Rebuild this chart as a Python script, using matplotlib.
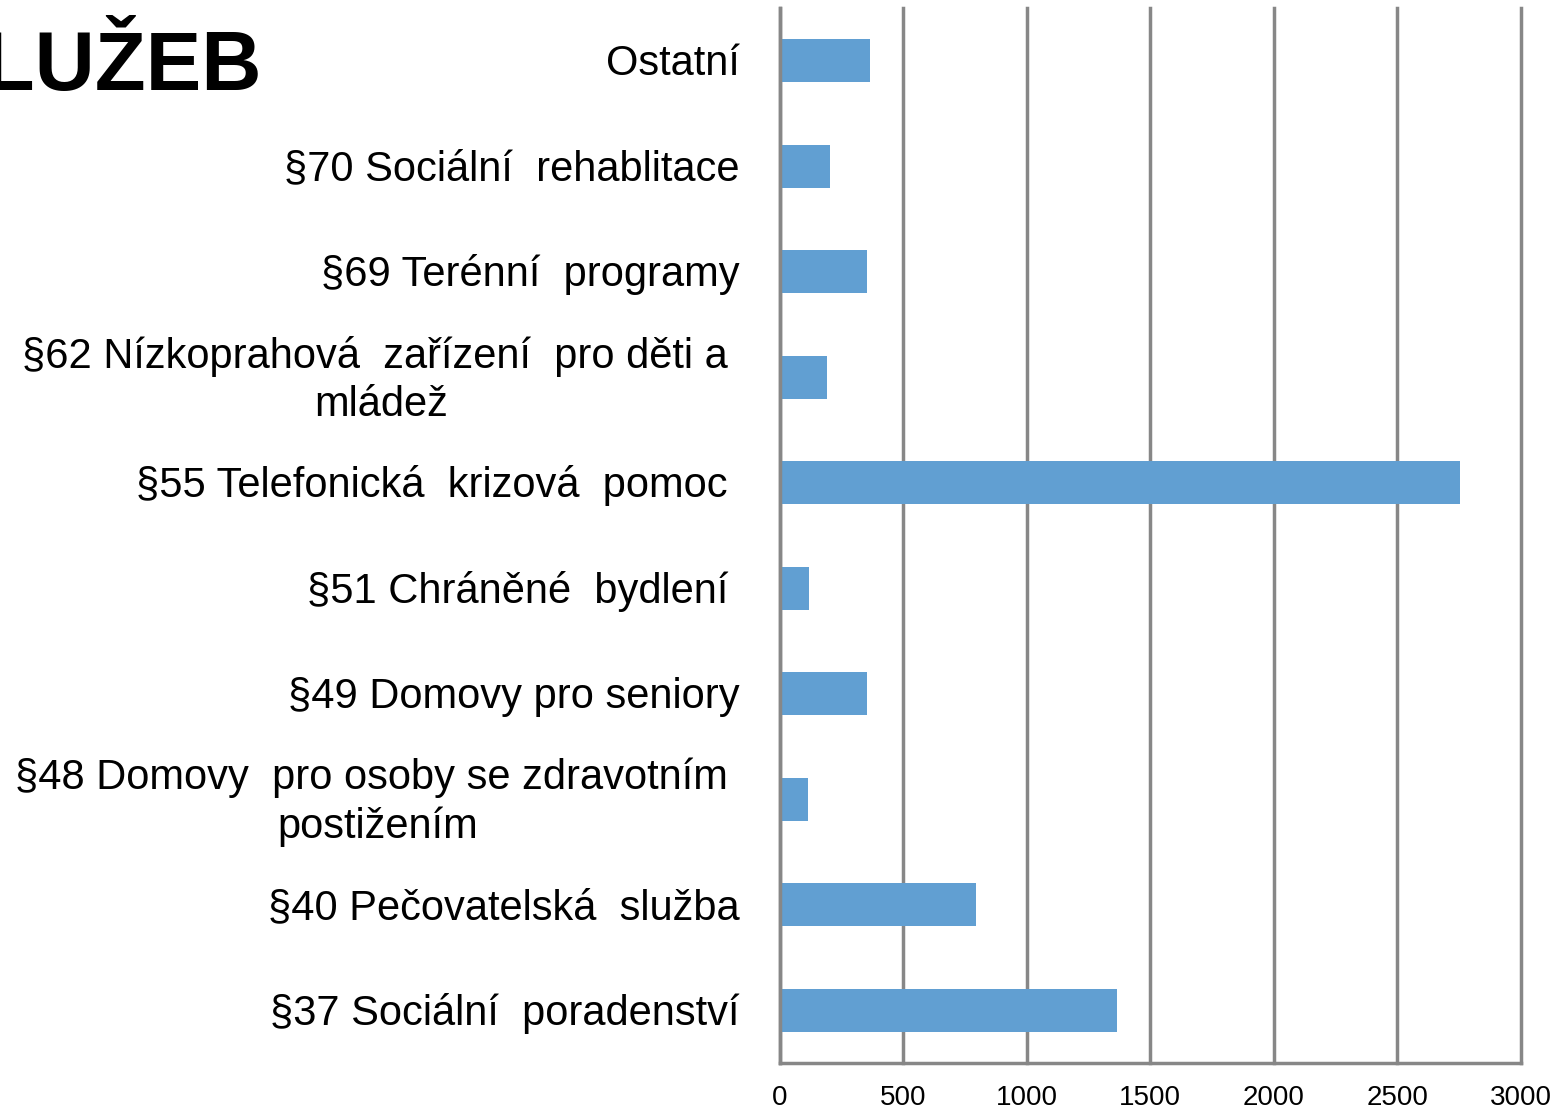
import matplotlib
matplotlib.use('Agg')
import matplotlib.pyplot as plt

plt.rcParams['font.family'] = ['Liberation Sans', 'DejaVu Sans']

CATEGORIES = [
    "§37 Sociální  poradenství",
    "§40 Pečovatelská  služba",
    "§48 Domovy  pro osoby se zdravotním \npostižením",
    "§49 Domovy pro seniory",
    "§51 Chráněné  bydlení ",
    "§55 Telefonická  krizová  pomoc ",
    "§62 Nízkoprahová  zařízení  pro děti a \nmládež",
    "§69 Terénní  programy",
    "§70 Sociální  rehablitace",
    "Ostatní",
]
VALUES = [1367, 793, 117, 352, 121, 2752, 194, 356, 206, 366]
XTICKS = [0, 500, 1000, 1500, 2000, 2500, 3000]

BAR_COLOR = "#619fd2"
GRID_COLOR = "#878787"

W, H = 1559, 1110
fig = plt.figure(figsize=(W / 100, H / 100), dpi=100)
ax = fig.add_axes([779.5 / W, 1 - 1063 / H, (1521 - 779.5) / W, (1063 - 8) / H])

ypos = list(range(len(CATEGORIES)))
ax.barh(ypos, VALUES, height=0.41, color=BAR_COLOR, zorder=2)

ax.set_xlim(0, 3000)
ax.set_ylim(-0.5, len(CATEGORIES) - 0.5)

ax.set_xticks(XTICKS)
ax.set_xticklabels([str(t) for t in XTICKS], fontsize=20)
ax.tick_params(axis='x', length=0, pad=16)
ax.set_yticks([])

# category labels, right-aligned ~40px left of the axis
for y, lab in zip(ypos, CATEGORIES):
    ax.text(-40 / 0.2473, y - 0.03, lab, ha='right', va='center',
            multialignment='center', fontsize=30, linespacing=1.25)

ax.grid(axis='x', color=GRID_COLOR, linewidth=2.5, zorder=1)
for gl in ax.get_xgridlines():
    gl.set_clip_on(False)
for s in ['top', 'right']:
    ax.spines[s].set_visible(False)
for s in ['left', 'bottom']:
    ax.spines[s].set_color(GRID_COLOR)
    ax.spines[s].set_linewidth(2.5)

fig.text(262 / W, 1 - 68 / H, "SLUŽEB", ha='right', va='center',
         fontsize=60, fontweight='bold')

fig.savefig("out.png", dpi=100)
